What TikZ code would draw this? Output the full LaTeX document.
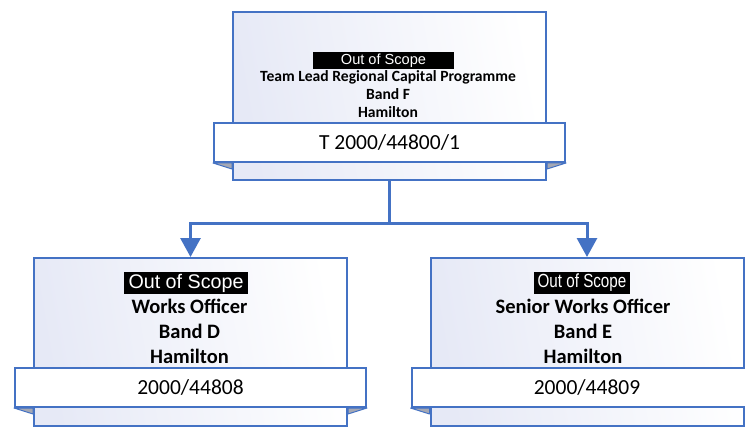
\documentclass[tikz,border=0pt]{standalone}
\usepackage{fontspec}
\usepackage{graphicx}
\setmainfont{Carlito}
\newfontfamily\lsans{Liberation Sans}
\usetikzlibrary{arrows.meta,calc}
\definecolor{lineblue}{RGB}{68,114,196}
\definecolor{shadeL}{RGB}{230,233,246}
\definecolor{foldgray}{RGB}{165,168,180}
\tikzset{
  outerbox/.style={draw=lineblue, line width=2pt, left color=shadeL, right color=white, shading angle=100, minimum width=313pt, minimum height=168pt, inner sep=0pt},
  ribbon/.style={draw=lineblue, line width=2pt, fill=white, minimum width=351pt, minimum height=39pt, inner sep=0pt, font=\fontsize{21.5}{24}\selectfont},
  oos/.style={fill=black, text=white, inner sep=0pt},
  title/.style={align=center, inner sep=0pt, font=\bfseries\fontsize{20.5}{25}\selectfont},
  fold/.style={fill=foldgray, draw=lineblue, line width=1pt, line join=round},
  conn/.style={draw=lineblue, line width=3pt},
  arr/.style={conn, -{Triangle[width=20pt,length=19pt]}}
}
\begin{document}
\begin{tikzpicture}[x=1pt,y=-1pt]
\path[use as bounding box, clip] (0,0) rectangle (745,433);
\fill[white] (0,0) rectangle (745,433);
% top
\node[outerbox] (top) at (389.5,96) {};
\node[ribbon] (rt) at (389.5,142.5) {T 2000/44800/1};
\draw[fold] (rt.south west) -- (top.west |- rt.south) -- ($(top.west |- rt.south)+(0,6)$) -- cycle;
\draw[fold] (rt.south east) -- (top.east |- rt.south) -- ($(top.east |- rt.south)+(0,6)$) -- cycle;
\node[oos, minimum width=141pt, minimum height=17pt, font=\lsans\fontsize{14.6}{17}\selectfont] (ot) at (383.5,60.5) {Out of Scope};
\node[title, font=\bfseries\fontsize{15.6}{18}\selectfont] (tt) at (388,94.5) {Team Lead Regional Capital Programme\\Band F\\Hamilton};
% bottom left
\node[outerbox] (bl) at (190.5,342) {};
\node[ribbon] (rl) at (190.5,387.5) {2000/44808};
\draw[fold] (rl.south west) -- (bl.west |- rl.south) -- ($(bl.west |- rl.south)+(0,6)$) -- cycle;
\draw[fold] (rl.south east) -- (bl.east |- rl.south) -- ($(bl.east |- rl.south)+(0,6)$) -- cycle;
\node[oos, minimum width=124pt, minimum height=22pt, font=\lsans\fontsize{19.7}{22}\selectfont] (ol) at (186,283) {Out of Scope};
\node[title] (tl) at (189.5,331) {Works Officer\\Band D\\Hamilton};
% bottom right
\node[outerbox] (br) at (587,342) {};
\node[ribbon] (rr) at (587,387.5) {2000/44809};
\draw[fold] (rr.south west) -- (br.west |- rr.south) -- ($(br.west |- rr.south)+(0,6)$) -- cycle;
\draw[fold] (rr.south east) -- (br.east |- rr.south) -- ($(br.east |- rr.south)+(0,6)$) -- cycle;
\node[oos, minimum width=96pt, minimum height=22pt, font=\lsans\fontsize{19}{22}\selectfont] (or) at (582,283) {\scalebox{0.8}[1]{Out of Scope}};
\node[title] (tr) at (583,331) {Senior Works Officer\\Band E\\Hamilton};
% connectors
\coordinate (j) at (389.5,224);
\draw[conn] (top.south) -- (j);
\draw[arr] (j) -| (bl.north);
\draw[arr] (j) -| (br.north);
\end{tikzpicture}
\end{document}
